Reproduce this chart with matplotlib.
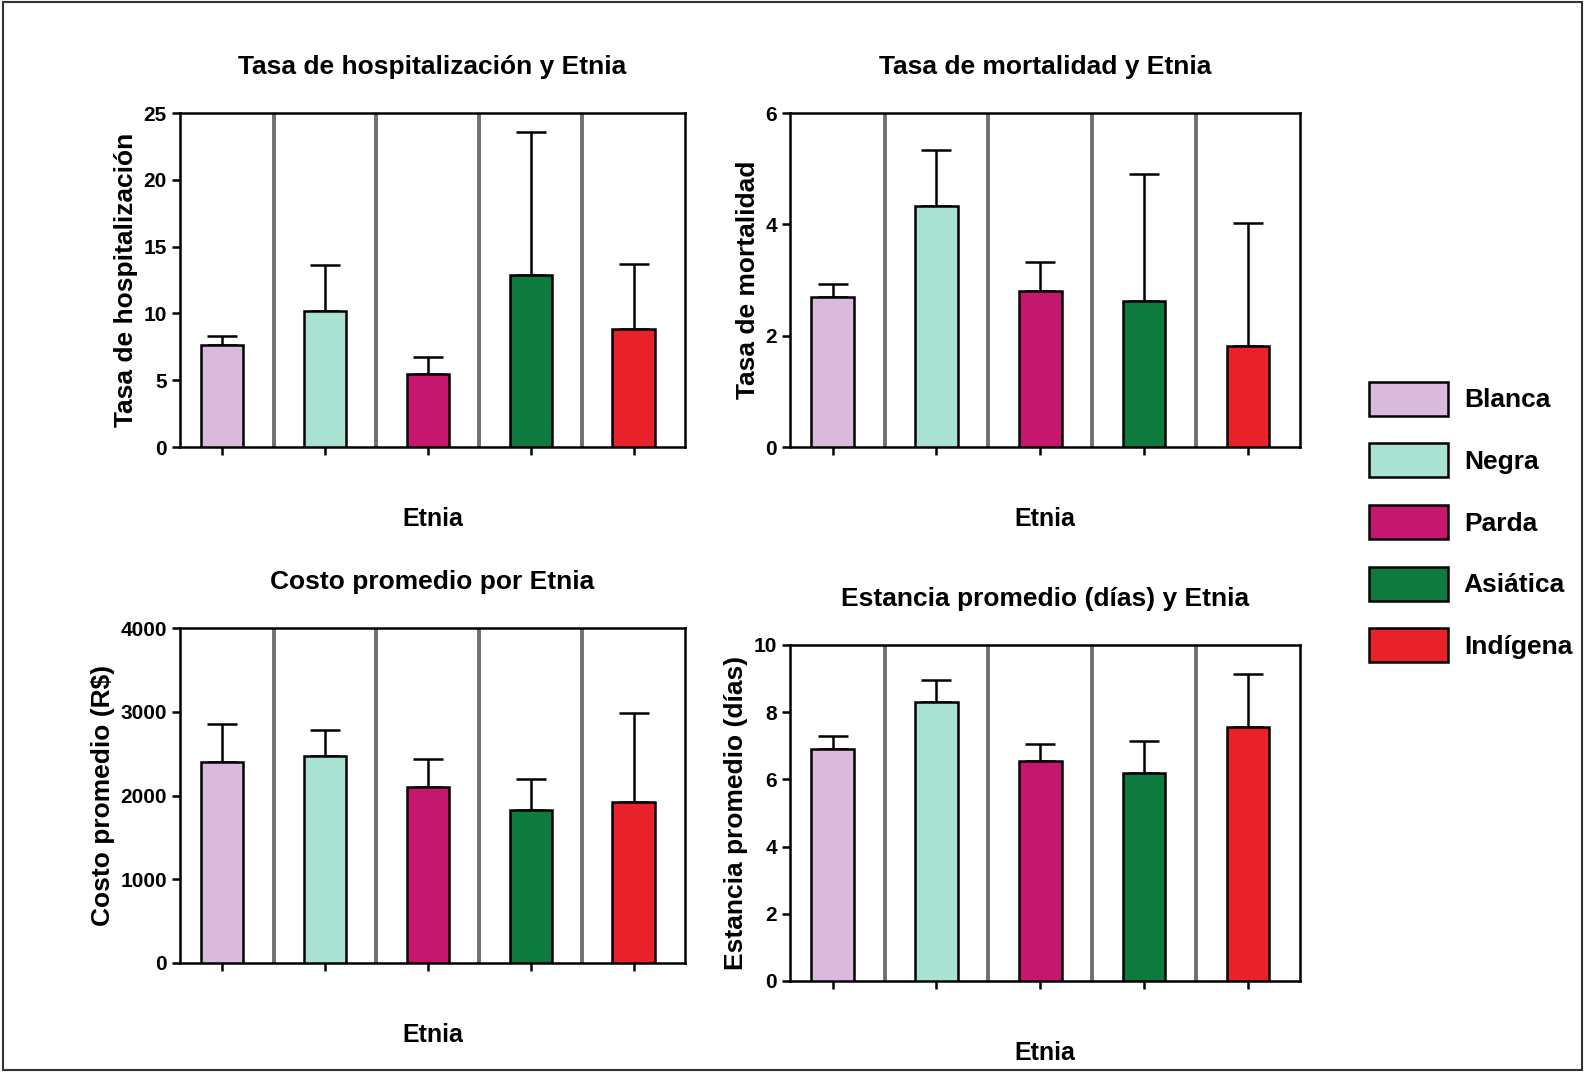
import matplotlib.pyplot as plt
from matplotlib.patches import Patch, Rectangle

plt.rcParams['font.family'] = ['Liberation Sans', 'DejaVu Sans']
plt.rcParams['font.weight'] = 'bold'

etnias = ['Blanca', 'Negra', 'Parda', 'Asiática', 'Indígena']
colores = ['#d9b9dc', '#a9e2d2', '#c6176f', '#0f7a3e', '#e9212b']

hosp = [7.6, 10.2, 5.5, 12.9, 8.8]
hosp_top = [8.3, 13.6, 6.7, 23.6, 13.7]
mort = [2.7, 4.33, 2.8, 2.62, 1.82]
mort_top = [2.92, 5.33, 3.32, 4.9, 4.02]
costo = [2400, 2470, 2100, 1830, 1920]
costo_top = [2850, 2780, 2430, 2200, 2990]
estancia = [6.9, 8.3, 6.55, 6.2, 7.55]
estancia_top = [7.3, 8.95, 7.05, 7.15, 9.15]

W, H = 1585, 1072
fig = plt.figure(figsize=(W / 100, H / 100), dpi=100)
fig.patches.append(Rectangle((0.002, 0.002), 0.996, 0.996, transform=fig.transFigure,
                             fill=False, edgecolor='#333333', lw=1.5))


def panel(box, vals, tops, ylim, yticks, title, ylabel):
    x0, y0, x1, y1 = box
    ax = fig.add_axes((x0 / W, 1 - y1 / H, (x1 - x0) / W, (y1 - y0) / H))
    xs = range(len(vals))
    err = [[0] * len(vals), [t - v for t, v in zip(tops, vals)]]
    ax.bar(xs, vals, width=0.41, color=colores, edgecolor='black', linewidth=1.8, zorder=3)
    ax.errorbar(xs, vals, yerr=err, fmt='none', ecolor='black', elinewidth=1.8,
                capsize=11, capthick=1.8, zorder=2)
    for s in [0.5, 1.5, 2.5, 3.5]:
        ax.axvline(s, color='#707070', lw=2.8, zorder=1)
    ax.set_xlim(-0.41, 4.5)
    ax.set_ylim(*ylim)
    ax.set_yticks(yticks)
    ax.set_xticks(list(xs))
    ax.set_xticklabels([])
    for sp in ax.spines.values():
        sp.set_linewidth(1.8)
    ax.tick_params(axis='both', width=1.8, length=6, labelsize=15)
    ax.set_title(title, fontsize=19, fontweight='bold', pad=28)
    ax.set_ylabel(ylabel, fontsize=19, fontweight='bold')
    ax.set_xlabel('Etnia', fontsize=18, fontweight='bold', labelpad=34)
    return ax


panel((180, 113, 685, 447), hosp, hosp_top, (0, 25), range(0, 26, 5),
      'Tasa de hospitalización y Etnia', 'Tasa de hospitalización')
panel((790, 113, 1300, 447), mort, mort_top, (0, 6), range(0, 7, 2),
      'Tasa de mortalidad y Etnia', 'Tasa de mortalidad')
panel((180, 628, 685, 963), costo, costo_top, (0, 4000), range(0, 4001, 1000),
      'Costo promedio por Etnia', 'Costo promedio (R$)')
panel((790, 645, 1300, 981), estancia, estancia_top, (0, 10), range(0, 11, 2),
      'Estancia promedio (días) y Etnia', 'Estancia promedio (días)')

handles = [Patch(facecolor=c, edgecolor='black', linewidth=1.8) for c in colores]
fig.legend(handles, etnias, loc='center left', bbox_to_anchor=(1345 / W, 1 - 522 / H),
           frameon=False, fontsize=19, handlelength=3.0, handleheight=1.6,
           labelspacing=1.05, handletextpad=0.6)

fig.savefig('out.png', dpi=100)
